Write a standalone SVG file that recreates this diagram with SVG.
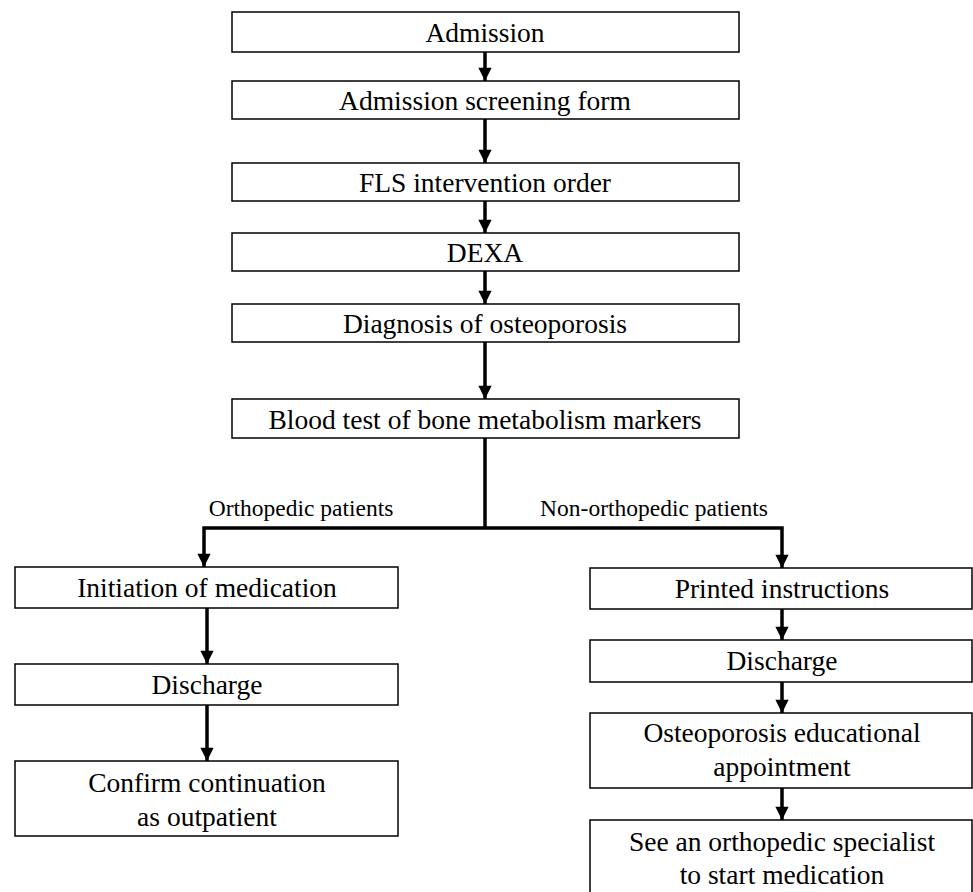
<svg xmlns="http://www.w3.org/2000/svg" width="973" height="892" viewBox="0 0 973 892">
<style>
.box{fill:#fff;stroke:#000;stroke-width:1.5}
.t{font-family:"Liberation Serif","Times New Roman",serif;font-size:27.5px;text-anchor:middle;fill:#000}
.l{font-family:"Liberation Serif","Times New Roman",serif;font-size:23.5px;text-anchor:middle;fill:#000}
.c{fill:none;stroke:#000;stroke-width:3.5}
</style>
<defs>
<marker id="ah" viewBox="0 0 10 10" refX="10" refY="5" markerWidth="4" markerHeight="3.8" orient="auto" markerUnits="strokeWidth">
<path d="M0,0 L10,5 L0,10 z" fill="#000"/>
</marker>
</defs>
<rect width="973" height="892" fill="#fff"/>
<g id="connectors">
<line class="c" x1="485" y1="52" x2="485" y2="81" marker-end="url(#ah)"/>
<line class="c" x1="485" y1="119" x2="485" y2="163" marker-end="url(#ah)"/>
<line class="c" x1="485" y1="201" x2="485" y2="233" marker-end="url(#ah)"/>
<line class="c" x1="485" y1="271" x2="485" y2="304" marker-end="url(#ah)"/>
<line class="c" x1="485" y1="342" x2="485" y2="399" marker-end="url(#ah)"/>
<polyline class="c" points="485,438 485,528"/>
<polyline class="c" points="485,528 204,528 204,567" marker-end="url(#ah)"/>
<polyline class="c" points="485,528 782,528 782,568" marker-end="url(#ah)"/>
<line class="c" x1="207" y1="608" x2="207" y2="664" marker-end="url(#ah)"/>
<line class="c" x1="207" y1="705" x2="207" y2="761" marker-end="url(#ah)"/>
<line class="c" x1="782" y1="609" x2="782" y2="640" marker-end="url(#ah)"/>
<line class="c" x1="782" y1="682" x2="782" y2="713" marker-end="url(#ah)"/>
<line class="c" x1="782" y1="788" x2="782" y2="820" marker-end="url(#ah)"/>
<text class="l" x="301" y="516">Orthopedic patients</text>
<text class="l" x="654" y="516">Non-orthopedic patients</text>
</g>
<g id="n1"><rect class="box" x="232" y="12" width="507" height="40"/><text class="t" x="485" y="42">Admission</text></g>
<g id="n2"><rect class="box" x="232" y="81" width="507" height="38"/><text class="t" x="485" y="110">Admission screening form</text></g>
<g id="n3"><rect class="box" x="232" y="163" width="507" height="38"/><text class="t" x="485" y="192">FLS intervention order</text></g>
<g id="n4"><rect class="box" x="232" y="233" width="507" height="38"/><text class="t" x="485" y="262">DEXA</text></g>
<g id="n5"><rect class="box" x="232" y="304" width="507" height="38"/><text class="t" x="485" y="333">Diagnosis of osteoporosis</text></g>
<g id="n6"><rect class="box" x="232" y="399" width="507" height="39"/><text class="t" x="485" y="429">Blood test of bone metabolism markers</text></g>
<g id="n7"><rect class="box" x="15" y="567" width="383" height="41"/><text class="t" x="207" y="597">Initiation of medication</text></g>
<g id="n8"><rect class="box" x="15" y="664" width="383" height="41"/><text class="t" x="207" y="694">Discharge</text></g>
<g id="n9"><rect class="box" x="15" y="761" width="383" height="75"/><text class="t" x="207" y="792">Confirm continuation</text><text class="t" x="207" y="826">as outpatient</text></g>
<g id="n10"><rect class="box" x="590" y="568" width="382" height="41"/><text class="t" x="782" y="598">Printed instructions</text></g>
<g id="n11"><rect class="box" x="590" y="640" width="382" height="42"/><text class="t" x="782" y="670">Discharge</text></g>
<g id="n12"><rect class="box" x="590" y="713" width="382" height="75"/><text class="t" x="782" y="742">Osteoporosis educational</text><text class="t" x="782" y="776">appointment</text></g>
<g id="n13"><rect class="box" x="590" y="820" width="382" height="80"/><text class="t" x="782" y="851">See an orthopedic specialist</text><text class="t" x="782" y="884">to start medication</text></g>
</svg>
